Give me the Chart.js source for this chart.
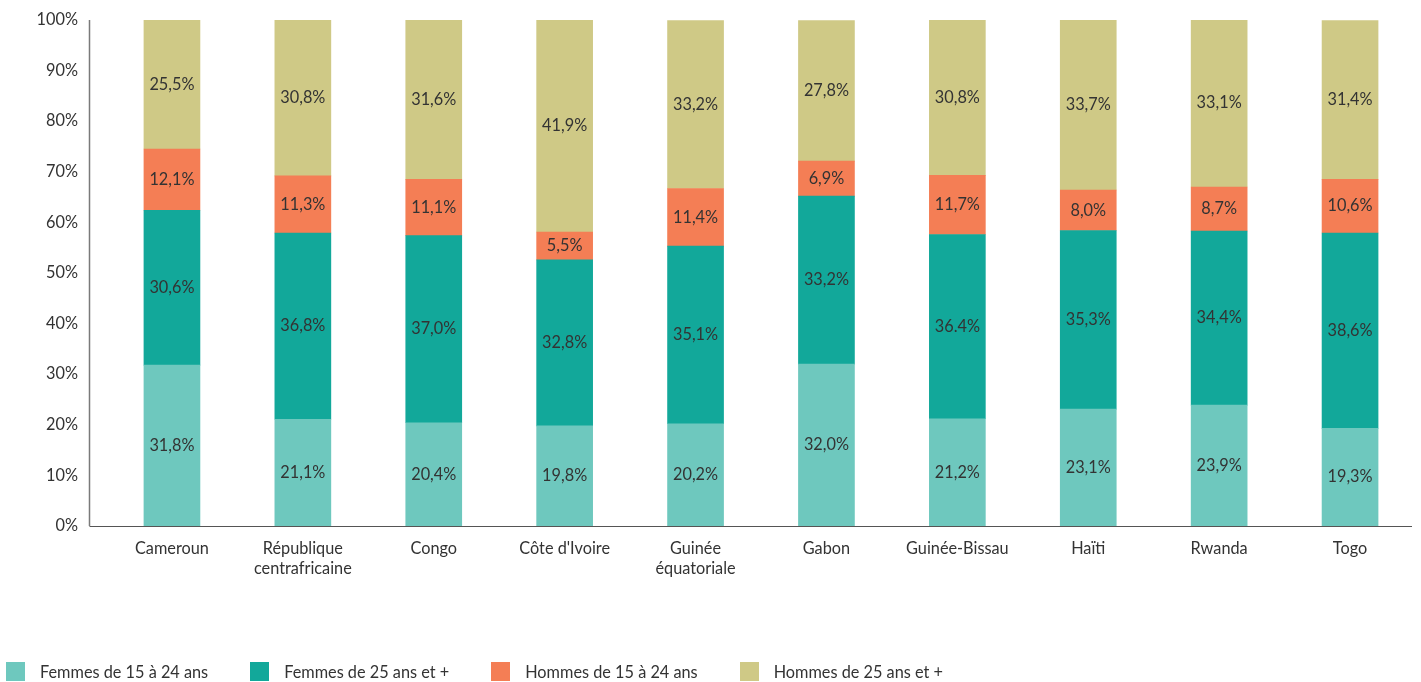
<!DOCTYPE html>
<html>
<head>
<meta charset="utf-8">
<script src="https://cdn.jsdelivr.net/npm/chart.js@4/dist/chart.umd.min.js"></script>
<style>
  html, body { margin: 0; padding: 0; background: #fff; }
  #wrap { position: relative; width: 1421px; height: 682px; }
  #legend { position: absolute; left: 6px; top: 662px; display: flex; align-items: center;
    font-family: Lato, "Noto Sans", sans-serif; font-size: 16.3px; color: #333; line-height: 19px; }
  .item { display: flex; align-items: center; margin-right: 42px; }
  .box { width: 19px; height: 19px; margin-right: 15px; }
</style>
</head>
<body>
<div id="wrap">
  <canvas id="c" width="1421" height="682"></canvas>
  <div id="legend"></div>
</div>
<script>
const categories = ["Cameroun", ["République", "centrafricaine"], "Congo", "Côte d'Ivoire",
  ["Guinée", "équatoriale"], "Gabon", "Guinée-Bissau", "Haïti", "Rwanda", "Togo"];
const seriesNames = ["Femmes de 15 à 24 ans", "Femmes de 25 ans et +", "Hommes de 15 à 24 ans", "Hommes de 25 ans et +"];
const femmes1524 = [31.8, 21.1, 20.4, 19.8, 20.2, 32.0, 21.2, 23.1, 23.9, 19.3];
const femmes25 = [30.6, 36.8, 37.0, 32.8, 35.1, 33.2, 36.4, 35.3, 34.4, 38.6];
const hommes1524 = [12.1, 11.3, 11.1, 5.5, 11.4, 6.9, 11.7, 8.0, 8.7, 10.6];
const hommes25 = [25.5, 30.8, 31.6, 41.9, 33.2, 27.8, 30.8, 33.7, 33.1, 31.4];
const yTicks = [0, 10, 20, 30, 40, 50, 60, 70, 80, 90, 100];
const colors = ["#6ec8be", "#12a89a", "#f47e55", "#cfc986"];
// label as printed in the source (one uses a period)
const labelOverrides = { "1,6": "36.4%" };

const FONT = "Lato, 'Noto Sans', sans-serif";
const FS = 16.3;
const TEXT = "#333333";

const seriesData = [femmes1524, femmes25, hommes1524, hommes25];

const valueLabels = {
  id: "valueLabels",
  afterDatasetsDraw(chart) {
    const ctx = chart.ctx;
    ctx.save();
    ctx.font = FS + "px " + FONT;
    ctx.fillStyle = TEXT;
    ctx.textAlign = "center";
    ctx.textBaseline = "middle";
    chart.data.datasets.forEach((ds, di) => {
      const meta = chart.getDatasetMeta(di);
      meta.data.forEach((el, i) => {
        const p = el.getProps(["x", "y", "base"], true);
        const key = di + "," + i;
        const txt = labelOverrides[key] || ds.data[i].toFixed(1).replace(".", ",") + "%";
        ctx.fillText(txt, p.x, (p.y + p.base) / 2);
      });
    });
    ctx.restore();
  }
};

const axisLines = {
  id: "axisLines",
  afterDraw(chart) {
    const ctx = chart.ctx;
    const y = chart.scales.y;
    const y0 = y.getPixelForValue(0), y100 = y.getPixelForValue(100);
    const xLeft = 89.5;
    ctx.save();
    ctx.strokeStyle = "#7a7a7a";
    ctx.lineWidth = 1.5;
    ctx.beginPath();
    ctx.moveTo(xLeft, y100);
    ctx.lineTo(xLeft, y0);
    ctx.stroke();
    ctx.strokeStyle = "#555555";
    ctx.lineWidth = 1.2;
    ctx.beginPath();
    ctx.moveTo(xLeft, y0 + 0.5);
    ctx.lineTo(1412, y0 + 0.5);
    ctx.stroke();
    ctx.restore();
  }
};

new Chart(document.getElementById("c"), {
  type: "bar",
  data: {
    labels: categories,
    datasets: seriesData.map((d, k) => ({
      label: seriesNames[k],
      data: d,
      backgroundColor: colors[k],
      borderWidth: 0,
      barThickness: 56
    }))
  },
  options: {
    responsive: false,
    animation: false,
    layout: { padding: { top: 20, right: 5.5, left: 0, bottom: 0 } },
    plugins: { legend: { display: false }, tooltip: { enabled: false } },
    scales: {
      x: {
        stacked: true,
        grid: { display: false, drawTicks: false },
        border: { display: false },
        ticks: { color: TEXT, font: { family: FONT, size: FS, lineHeight: 1.23 }, padding: 13, maxRotation: 0, autoSkip: false },
        afterFit(s) { s.height = 156; }
      },
      y: {
        stacked: true,
        min: 0, max: 100,
        afterBuildTicks(s) { s.ticks = yTicks.map(v => ({ value: v })); },
        grid: { display: false, drawTicks: false },
        border: { display: false },
        ticks: { color: TEXT, font: { family: FONT, size: FS }, padding: 28.5, callback: v => v + "%" },
        afterFit(s) { s.width = 106.5; s.paddingTop = 0; s.paddingBottom = 0; }
      }
    }
  },
  plugins: [valueLabels, axisLines]
});

const lg = document.getElementById("legend");
seriesNames.forEach((n, k) => {
  const it = document.createElement("div");
  it.className = "item";
  const b = document.createElement("div");
  b.className = "box";
  b.style.background = colors[k];
  const t = document.createElement("span");
  t.textContent = n;
  it.appendChild(b); it.appendChild(t);
  lg.appendChild(it);
});
</script>
</body>
</html>
